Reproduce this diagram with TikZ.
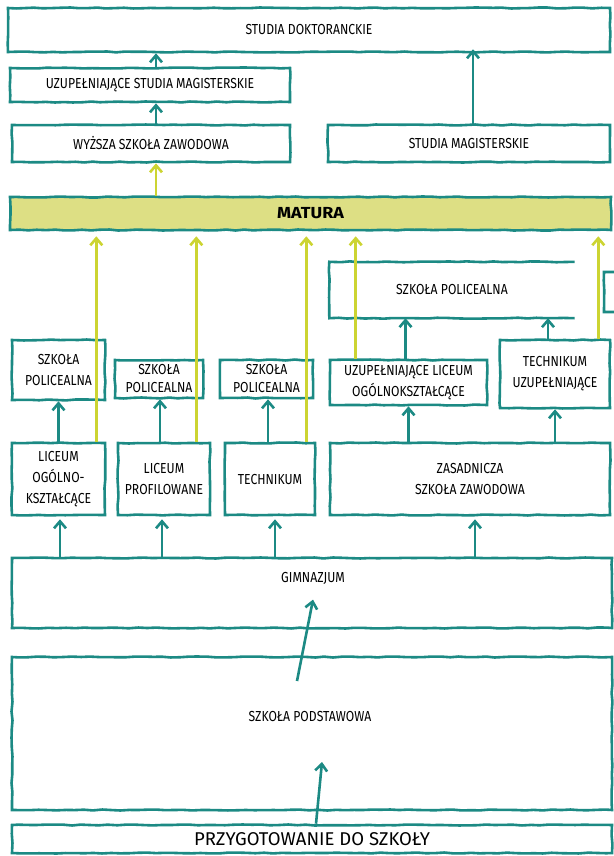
\documentclass[tikz,border=0pt]{standalone}
\usepackage{fontspec}
\setmainfont{Fira Sans}[FakeStretch=0.84]
\newfontfamily\widesans{Fira Sans}
\newfontfamily\maturafont{Fira Sans}[FakeStretch=1.12]
\usetikzlibrary{arrows.meta,decorations.pathmorphing}

\definecolor{schoolteal}{RGB}{28,138,132}
\definecolor{maturalime}{RGB}{204,212,50}
\definecolor{maturafill}{RGB}{221,223,132}

\tikzset{
    sketch/.style={decorate, decoration={random steps, segment length=9pt, amplitude=0.5pt}},
    box/.style={draw=schoolteal, line width=2.6pt, fill=white, sketch, align=center,
        inner sep=1pt, font=\fontsize{14.5}{21}\selectfont},
    rim/.style={draw=schoolteal, line width=2.6pt, sketch},
    up/.style={-{Straight Barb[length=7pt,width=12pt]}, line width=2.6pt, draw=schoolteal},
    upm/.style={up, draw=maturalime},
}

\begin{document}
\begin{tikzpicture}[x=1pt,y=-1pt]
    \useasboundingbox (0,0) rectangle (613,856);

    % studia
    \node[box, minimum width=602, minimum height=44] (dokt) at (309,30) {STUDIA DOKTORANCKIE};
    \node[box, minimum width=280, minimum height=34] (uzmag) at (150,85) {UZUPEŁNIAJĄCE STUDIA MAGISTERSKIE};
    \node[box, minimum width=278, minimum height=37] (wsz) at (151,143.5) {WYŻSZA SZKOŁA ZAWODOWA};
    \node[box, minimum width=282, minimum height=37] (smag) at (469,143.5) {STUDIA MAGISTERSKIE};

    \node[box, fill=maturafill, minimum width=601, minimum height=33,
        font=\maturafont\bfseries\fontsize{16}{18}\selectfont] (matura) at (310.5,213.5) {MATURA};

    % szkoly ponadgimnazjalne
    \node[font=\fontsize{14.5}{21}\selectfont, minimum width=245, minimum height=56] (polw) at (452,290) {SZKOŁA POLICEALNA};
    \draw[rim] (polw.north east) -- (polw.north west) -- (polw.south west) -- (polw.south east);
    \coordinate (cut) at (614,272);
    \draw[rim] (cut) -- ++(-10,0) -- ++(0,40) -- ++(10,0);

    \node[box, minimum width=93, minimum height=60] (pol1) at (58.5,370) {SZKOŁA\\POLICEALNA};
    \node[box, minimum width=88, minimum height=38, font=\fontsize{14.5}{18}\selectfont] (pol2) at (159,379) {SZKOŁA\\POLICEALNA};
    \node[box, minimum width=93, minimum height=38, font=\fontsize{14.5}{18}\selectfont] (pol3) at (266.5,379) {SZKOŁA\\POLICEALNA};
    \node[box, minimum width=157, minimum height=45] (ulo) at (408.5,382.5) {UZUPEŁNIAJĄCE LICEUM\\OGÓLNOKSZTAŁCĄCE};
    \node[box, minimum width=110, minimum height=68] (tu) at (555,374) {TECHNIKUM\\UZUPEŁNIAJĄCE};

    \node[box, minimum width=93, minimum height=72] (lo) at (58.5,479) {LICEUM\\OGÓLNO-\\KSZTAŁCĄCE};
    \node[box, minimum width=92, minimum height=72] (lp) at (164,479) {LICEUM\\PROFILOWANE};
    \node[box, minimum width=90, minimum height=72] (tech) at (270,479) {TECHNIKUM};
    \node[box, minimum width=280, minimum height=72] (zsz) at (470,479) {ZASADNICZA\\SZKOŁA ZAWODOWA};

    % gimnazjum, podstawowa
    \node[box, minimum width=600, minimum height=70] (gim) at (312,593) {};
    \node[font=\fontsize{14.5}{16}\selectfont] (gimlab) at (313,578) {GIMNAZJUM};
    \node[box, minimum width=600, minimum height=153] (sp) at (312,733.5) {};
    \node[font=\fontsize{14.5}{16}\selectfont] (splab) at (310,716) {SZKOŁA PODSTAWOWA};
    \node[box, minimum width=600, minimum height=28,
        font=\widesans\fontsize{18.5}{20}\selectfont] (prz) at (312,839) {PRZYGOTOWANIE DO SZKOŁY};

    % strzalki
    \draw[up] ([xshift=5pt]wsz.north) -- ([xshift=5pt]wsz.north |- uzmag.south);
    \draw[up] ([xshift=6pt]uzmag.north) -- ([xshift=6pt]uzmag.north |- dokt.south);
    \draw[up] ([xshift=4pt]smag.north) -- ([xshift=4pt,yshift=4pt]smag.north |- dokt.south);

    \draw[up] (lo.north) -- (lo.north |- pol1.south);
    \draw[up] ([xshift=-4pt]lp.north) -- ([xshift=-4pt]lp.north |- pol2.south);
    \draw[up] ([xshift=-2pt]tech.north) -- ([xshift=-2pt]tech.north |- pol3.south);
    \draw[up] (ulo.south |- zsz.north) -- (ulo.south);
    \draw[up] (tu.south |- zsz.north) -- (tu.south);
    \draw[up] ([xshift=-3pt]ulo.north) -- ([xshift=-3pt]ulo.north |- polw.south);
    \draw[up] ([xshift=-7pt]tu.north) -- ([xshift=-7pt]tu.north |- polw.south);

    \foreach \nd/\dx in {lo/1.5, lp/-2, tech/5, zsz/5}
        \draw[up] ([xshift=\dx pt]\nd.south |- gim.north) -- ([xshift=\dx pt,yshift=-3pt]\nd.south);

    \coordinate (spstart) at (297,681);
    \draw[up] (spstart) -- ([yshift=-12pt]gimlab.south);
    \coordinate (sptip) at (322,762);
    \draw[up] ([xshift=4pt]prz.north) -- (sptip);

    % matura
    \draw[upm] ([xshift=5pt]wsz.south |- matura.north) -- ([xshift=5pt]wsz.south);
    \draw[upm] ([xshift=-10pt]lo.north east) -- ([xshift=-10pt,yshift=-5pt]lo.north east |- matura.south);
    \draw[upm] ([xshift=-15pt]lp.north east) -- ([xshift=-15pt,yshift=-5pt]lp.north east |- matura.south);
    \draw[upm] ([xshift=-10pt]tech.north east) -- ([xshift=-10pt,yshift=-5pt]tech.north east |- matura.south);
    \draw[upm] ([xshift=27pt]ulo.north west) -- ([xshift=27pt,yshift=-5pt]ulo.north west |- matura.south);
    \draw[upm] ([xshift=-13pt]tu.north east) -- ([xshift=-13pt,yshift=-5pt]tu.north east |- matura.south);
\end{tikzpicture}
\end{document}
